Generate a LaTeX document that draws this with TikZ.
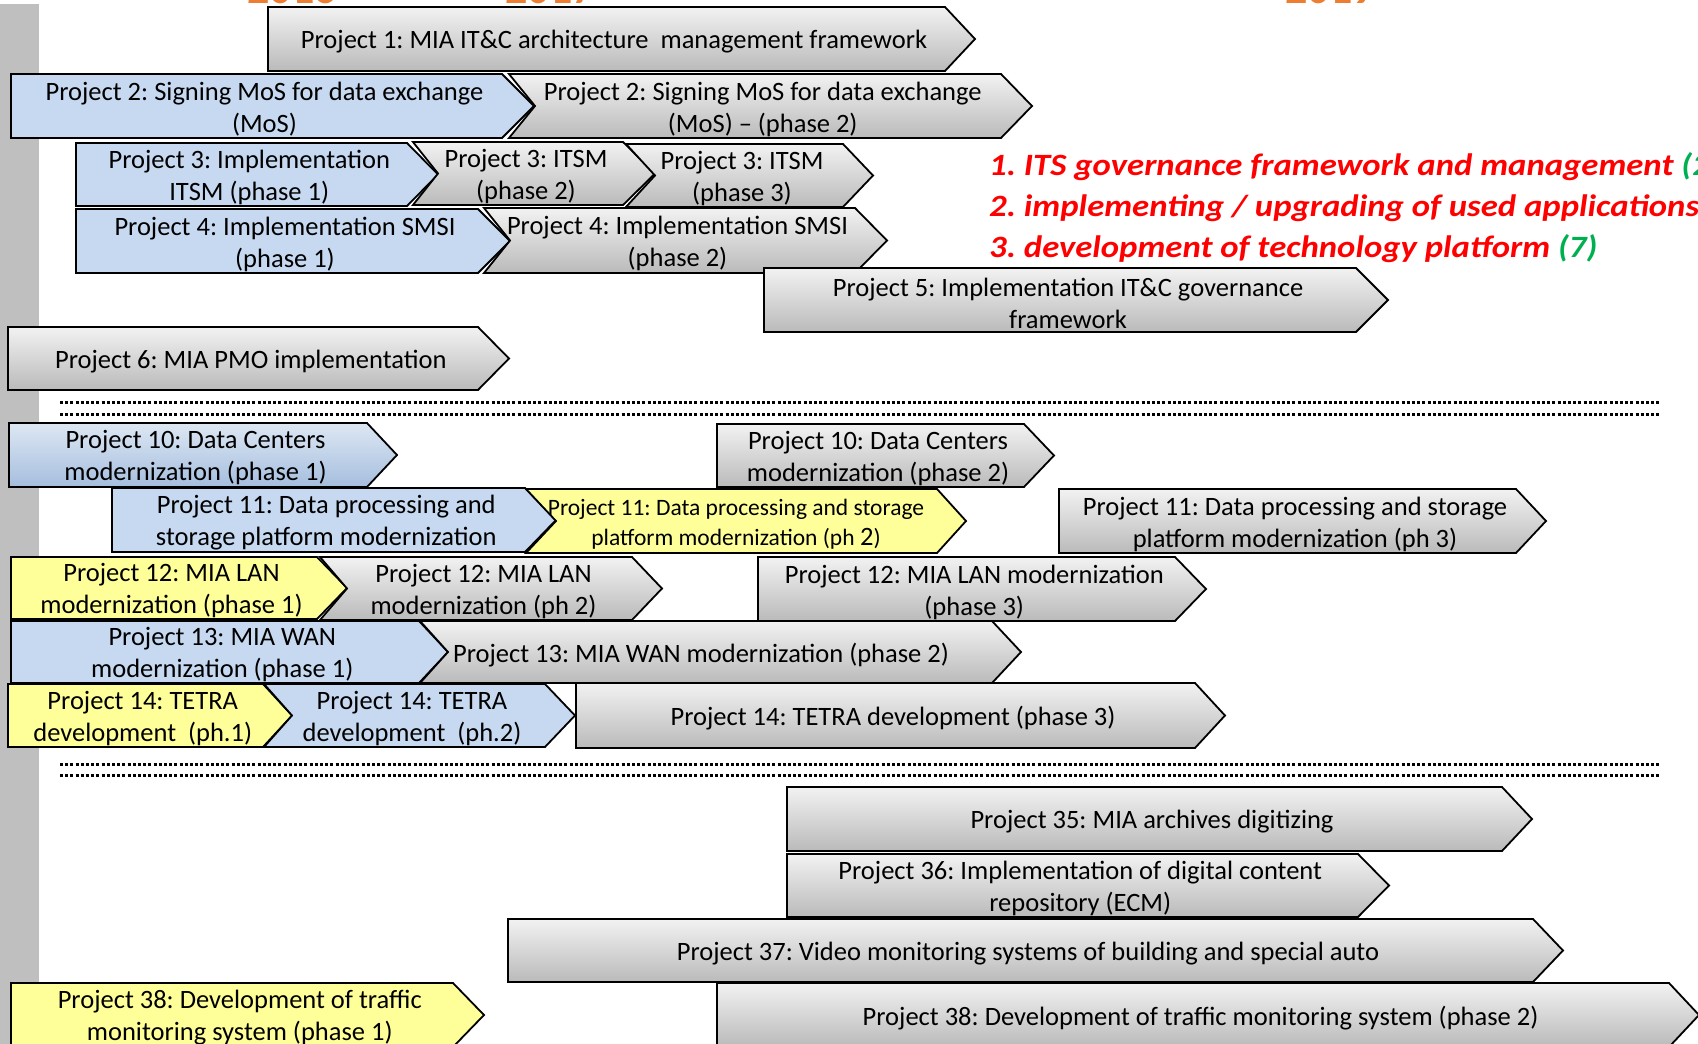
\documentclass[tikz,border=0pt]{standalone}
\usepackage{fontspec}
\setmainfont{Carlito}
\newfontfamily\legfont{Carlito}[FakeStretch=1.12]
\frenchspacing
\definecolor{gtop}{RGB}{242,242,242}
\definecolor{gbot}{RGB}{186,186,186}
\definecolor{pblue}{RGB}{198,217,241}
\definecolor{btop}{RGB}{221,231,243}
\definecolor{bbot}{RGB}{165,190,222}
\definecolor{pyel}{RGB}{255,255,153}
\definecolor{barg}{RGB}{191,191,191}
\definecolor{lred}{RGB}{255,0,0}
\definecolor{lgreen}{RGB}{0,176,80}
\definecolor{yorange}{RGB}{237,125,49}
\tikzset{
  box/.style={draw=black,line width=1.8,line join=miter},
  greybox/.style={box,top color=gtop,bottom color=gbot},
  bluebox/.style={box,fill=pblue},
  bluegrad/.style={box,top color=btop,bottom color=bbot},
  yelbox/.style={box,fill=pyel},
  txt/.style={font=\fontsize{26.5}{32}\selectfont,align=center,inner sep=0pt,yshift=-3pt},
  smalltxt/.style={font=\fontsize{23.5}{30}\selectfont,align=center,inner sep=0pt,yshift=-3pt},
  legend/.style={font=\legfont\fontsize{31}{36}\selectfont\bfseries\itshape,anchor=base west,inner sep=0pt,text=lred},
  sepline/.style={line width=3,dash pattern=on 3 off 2.2},
  yeartxt/.style={font=\fontsize{44}{50}\selectfont\bfseries,text=yorange,anchor=base,inner sep=0pt}
}
% #1 style, #2 left, #3 top, #4 bottom, #5 body right, #6 tip, #7 notch depth, #8 name, #9 text
\newcommand\chv[9]{%
  \path[#1] (#2,#3) -- (#5,#3) -- (#6,{(#3+#4)/2}) -- (#5,#4) -- (#2,#4) -- ({#2+#7},{(#3+#4)/2}) -- cycle;
  \node[txt] (#8) at ({(#2+#5)/2+0.25*(#6-#5)},{(#3+#4)/2}) {#9};%
}
\begin{document}
\begin{tikzpicture}[x=1pt,y=-1pt]
\useasboundingbox (0,0) rectangle (1698,1044);
\clip (0,0) rectangle (1698,1044);
\fill[white] (0,0) rectangle (1698,1044);
% left grey bar
\fill[barg] (0,3.5) rectangle (39,1044);
% clipped year headings
\node[yeartxt] (y1) at (292,4) {2016};
\node[yeartxt] (y2) at (550,4) {2017};
\node[yeartxt] (y3) at (1330,4) {2019};
% group 1
\chv{greybox}{268}{7}{71}{945}{975}{0}{p1}{Project 1: MIA IT\&C architecture\ \ management framework}
\chv{bluebox}{11}{74}{138}{502}{534}{0}{p2a}{Project 2: Signing MoS for data exchange\\(MoS)}
\chv{greybox}{509}{74}{138}{1001}{1032}{26}{p2b}{Project 2: Signing MoS for data exchange\\(MoS) -- (phase 2)}
\chv{bluebox}{76}{143}{206}{407}{438}{0}{p3a}{Project 3: Implementation\\ITSM (phase 1)}
\chv{greybox}{413}{142}{205}{623}{655}{25}{p3b}{Project 3: ITSM\\(phase 2)}
\chv{greybox}{626}{144}{207}{843}{873}{29}{p3c}{Project 3: ITSM\\(phase 3)}
\chv{bluebox}{76}{209}{273}{478}{510}{0}{p4a}{Project 4: Implementation SMSI\\(phase 1)}
\chv{greybox}{484}{208}{273}{855}{887}{26}{p4b}{Project 4: Implementation SMSI\\(phase 2)}
\chv{greybox}{764}{268}{332}{1356}{1388}{0}{p5}{Project 5: Implementation IT\&C governance\\framework}
\chv{greybox}{8}{327}{390}{478}{509}{0}{p6}{Project 6: MIA PMO implementation}
% legend
\node[legend] (l1) at (989,175) {1. ITS governance framework and management \textcolor{lgreen}{(2)}};
\node[legend] (l2) at (989,216) {2. implementing / upgrading of used applications};
\node[legend] (l3) at (989,257) {3. development of technology platform \textcolor{lgreen}{(7)}};
% separators
\draw[sepline] (60,402) -- (1659,402);
\draw[sepline] (60,414) -- (1659,414);
\draw[sepline] (60,764) -- (1659,764);
\draw[sepline] (60,775) -- (1659,775);
% group 2
\chv{bluegrad}{9}{423}{487}{367}{397}{0}{p10a}{Project 10: Data Centers\\modernization (phase 1)}
\chv{greybox}{717}{424}{487}{1024}{1054}{0}{p10b}{Project 10: Data Centers\\modernization (phase 2)}
\chv{bluebox}{112}{488}{552}{525}{556}{0}{p11a}{Project 11: Data processing and\\storage platform modernization}
\path[yelbox] (526,489) -- (937,489) -- (966,521) -- (937,553) -- (526,553) -- (556,521) -- cycle;
\node[smalltxt] (p11b) at (736,521) {Project 11: Data processing and storage\\platform modernization (ph {\fontsize{26.5}{30}\selectfont 2})};
\chv{greybox}{1059}{489}{553}{1516}{1546}{0}{p11c}{Project 11: Data processing and storage\\platform modernization (ph 3)}
\chv{yelbox}{11}{557}{619}{317}{347}{0}{p12a}{Project 12: MIA LAN\\modernization (phase 1)}
\chv{greybox}{320}{557}{620}{632}{662}{27}{p12b}{Project 12: MIA LAN\\modernization (ph 2)}
\chv{greybox}{758}{557}{621}{1175}{1206}{0}{p12c}{Project 12: MIA LAN modernization\\(phase 3)}
\chv{bluebox}{11}{621}{683}{419}{448}{0}{p13a}{Project 13: MIA WAN\\modernization (phase 1)}
\path[greybox] (420,621) -- (992,621) -- (1021,652) -- (992,683) -- (420,683) -- (448,652) -- cycle;
\node[txt] (p13b) at (701,652) {Project 13: MIA WAN modernization (phase 2)};
\chv{yelbox}{8}{684}{747}{263}{292}{0}{p14a}{Project 14: TETRA\\development\ \ (ph.1)}
\chv{bluebox}{264}{684}{747}{545}{575}{28}{p14b}{Project 14: TETRA\\development\ \ (ph.2)}
\chv{greybox}{576}{683}{748}{1195}{1225}{0}{p14c}{Project 14: TETRA development (phase 3)}
% group 3
\chv{greybox}{787}{787}{851}{1502}{1532}{0}{p35}{Project 35: MIA archives digitizing}
\chv{greybox}{787}{854}{917}{1358}{1389}{0}{p36}{Project 36: Implementation of digital content\\repository (ECM)}
\chv{greybox}{508}{919}{982}{1533}{1563}{0}{p37}{Project 37: Video monitoring systems of building and special auto}
\chv{yelbox}{11}{983}{1047}{453}{484}{0}{p38a}{Project 38: Development of traffic\\monitoring system (phase 1)}
\chv{greybox}{717}{983}{1047}{1669}{1699}{0}{p38b}{Project 38: Development of traffic monitoring system (phase 2)}
\end{tikzpicture}
\end{document}
